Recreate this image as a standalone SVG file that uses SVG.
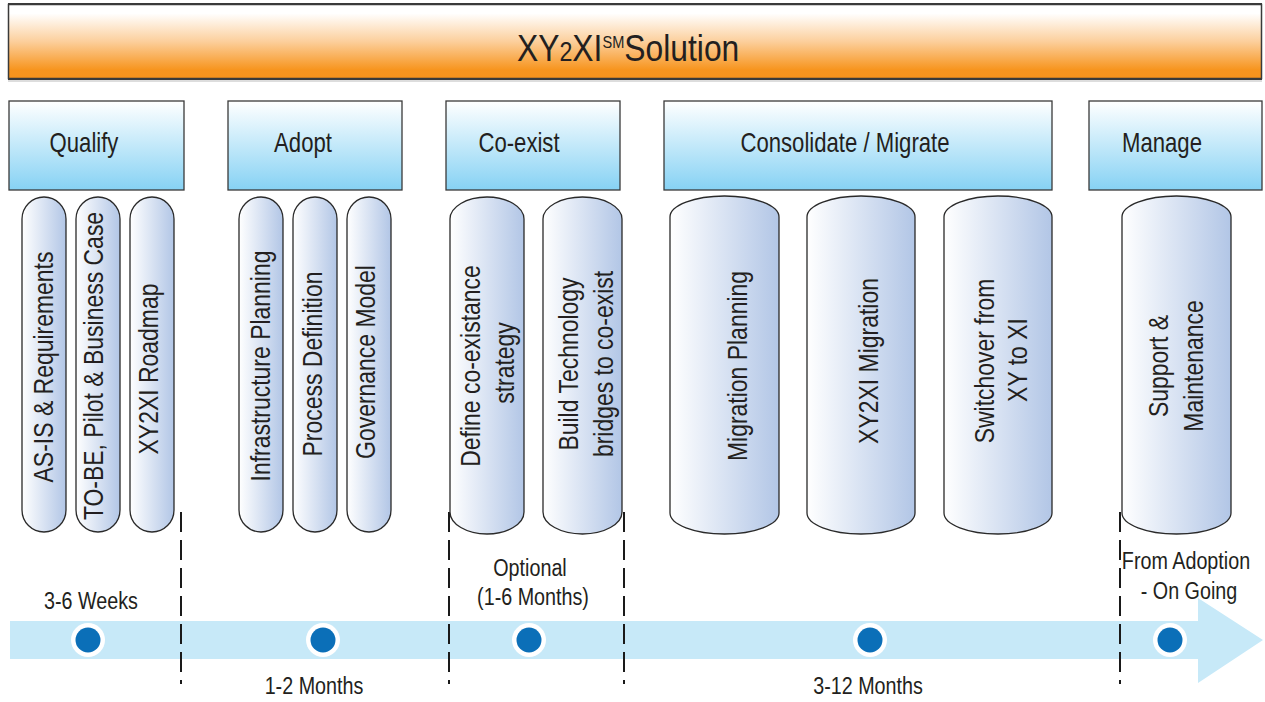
<svg xmlns="http://www.w3.org/2000/svg" width="1265" height="702" viewBox="0 0 1265 702">
<defs>
<linearGradient id="gTitle" x1="0" y1="0" x2="0" y2="1">
<stop offset="0" stop-color="#FFFFFF"/>
<stop offset="0.12" stop-color="#FFFFFF"/>
<stop offset="0.5" stop-color="#FCCF9C"/>
<stop offset="0.88" stop-color="#F7951F"/>
<stop offset="1" stop-color="#F7931C"/>
</linearGradient>
<linearGradient id="gHead" x1="0" y1="0" x2="0" y2="1">
<stop offset="0" stop-color="#FFFFFF"/>
<stop offset="1" stop-color="#86D2F4"/>
</linearGradient>
<linearGradient id="gPill" x1="0" y1="0" x2="1" y2="0">
<stop offset="0" stop-color="#FFFFFF"/>
<stop offset="1" stop-color="#B2C6E6"/>
</linearGradient>
<style>
text{font-family:'Liberation Sans',Arial,sans-serif;fill:#231F20;}
.head{fill:url(#gHead);stroke:#3A3A3A;stroke-width:1.3;}
.pill{fill:url(#gPill);stroke:#2A2A2A;stroke-width:1.3;}
.ht{font-size:27px;text-anchor:middle;}
.pt{font-size:28px;text-anchor:middle;}
.lt{font-size:23.5px;text-anchor:middle;}
.dash{stroke:#1A1A1A;stroke-width:2;stroke-dasharray:20 8;fill:none;}
.ring{fill:#FFFFFF;}
.dot{fill:#0B6FB8;}
</style>
</defs>
<rect width="1265" height="702" fill="#FFFFFF"/>

<g id="title">
<rect x="8.5" y="4.5" width="1253" height="74" fill="url(#gTitle)" stroke="#3A3A3A" stroke-width="1.5"/>
<line x1="8" y1="4" x2="1262" y2="4" stroke="#3A3A3A" stroke-width="2"/>
<line x1="8" y1="79" x2="1262" y2="79" stroke="#3A3A3A" stroke-width="2"/>
<line x1="8" y1="81" x2="1262" y2="81" stroke="#BBBBBB" stroke-width="1"/>
<text transform="translate(517 61) scale(0.86 1)" style="font-size:37px;">XY<tspan style="font-size:27px;">2</tspan>XI<tspan dy="-13" style="font-size:17px;">SM</tspan><tspan dy="13">Solution</tspan></text>
</g>

<g id="timeline">
<path d="M10 621 H1198 V598 L1263 640 L1198 683 V659 H10 Z" fill="#C7E9F8"/>
</g>

<g id="connectors">
<line class="dash" x1="181" y1="512" x2="181" y2="684"/>
<line class="dash" x1="449" y1="512" x2="449" y2="684"/>
<line class="dash" x1="624" y1="512" x2="624" y2="684"/>
<line class="dash" x1="1120" y1="512" x2="1120" y2="684"/>
</g>

<g id="qualify">
<rect class="head" x="9" y="101" width="175" height="89"/>
<text class="ht" transform="translate(84 152) scale(0.82 1)">Qualify</text>
<rect class="pill" x="22" y="197" width="44" height="335" rx="22" ry="22"/>
<rect class="pill" x="76" y="197" width="44" height="335" rx="22" ry="22"/>
<rect class="pill" x="130" y="197" width="44" height="335" rx="22" ry="22"/>
<text class="pt" transform="translate(53 367) rotate(-90) scale(0.82 1)">AS-IS &amp; Requirements</text>
<text class="pt" transform="translate(103 366) rotate(-90) scale(0.82 1)">TO-BE, Pilot &amp; Business Case</text>
<text class="pt" transform="translate(158 369) rotate(-90) scale(0.82 1)">XY2XI Roadmap</text>
</g>

<g id="adopt">
<rect class="head" x="228" y="101" width="174" height="89"/>
<text class="ht" transform="translate(303 152) scale(0.82 1)">Adopt</text>
<rect class="pill" x="239" y="197" width="44" height="335" rx="22" ry="22"/>
<rect class="pill" x="293" y="197" width="44" height="335" rx="22" ry="22"/>
<rect class="pill" x="347" y="197" width="44" height="335" rx="22" ry="22"/>
<text class="pt" transform="translate(270 366) rotate(-90) scale(0.82 1)">Infrastructure Planning</text>
<text class="pt" transform="translate(322 364) rotate(-90) scale(0.82 1)">Process Definition</text>
<text class="pt" transform="translate(375 362) rotate(-90) scale(0.82 1)">Governance Model</text>
</g>

<g id="coexist">
<rect class="head" x="446" y="101" width="174" height="89"/>
<text class="ht" transform="translate(519 152) scale(0.82 1)">Co-exist</text>
<rect class="pill" x="450" y="197" width="74" height="337" rx="37" ry="22"/>
<rect class="pill" x="543" y="197" width="79" height="337" rx="39.5" ry="22"/>
<text class="pt" transform="translate(480 366) rotate(-90) scale(0.82 1)">Define co-existance</text>
<text class="pt" transform="translate(514 363) rotate(-90) scale(0.82 1)">strategy</text>
<text class="pt" transform="translate(578 364) rotate(-90) scale(0.82 1)">Build Technology</text>
<text class="pt" transform="translate(613 364) rotate(-90) scale(0.82 1)">bridges to co-exist</text>
</g>

<g id="consolidate">
<rect class="head" x="664" y="101" width="388" height="89"/>
<text class="ht" transform="translate(845 152) scale(0.82 1)">Consolidate / Migrate</text>
<rect class="pill" x="670" y="196" width="109" height="338" rx="54.5" ry="21"/>
<rect class="pill" x="807" y="196" width="108" height="338" rx="54" ry="21"/>
<rect class="pill" x="944" y="196" width="108" height="338" rx="54" ry="21"/>
<text class="pt" transform="translate(747 366) rotate(-90) scale(0.82 1)">Migration Planning</text>
<text class="pt" transform="translate(878 361) rotate(-90) scale(0.82 1)">XY2XI Migration</text>
<text class="pt" transform="translate(994 361) rotate(-90) scale(0.82 1)">Switchover from</text>
<text class="pt" transform="translate(1027 360) rotate(-90) scale(0.82 1)">XY to XI</text>
</g>

<g id="manage">
<rect class="head" x="1089" y="101" width="173" height="89"/>
<text class="ht" transform="translate(1162 152) scale(0.82 1)">Manage</text>
<rect class="pill" x="1122" y="196" width="109" height="338" rx="54.5" ry="21"/>
<text class="pt" transform="translate(1168 366) rotate(-90) scale(0.82 1)">Support &amp;</text>
<text class="pt" transform="translate(1203 366) rotate(-90) scale(0.82 1)">Maintenance</text>
</g>

<g id="milestones">
<circle class="ring" cx="88" cy="640" r="17"/><circle class="dot" cx="88" cy="640" r="12.5"/>
<circle class="ring" cx="323" cy="640" r="17"/><circle class="dot" cx="323" cy="640" r="12.5"/>
<circle class="ring" cx="529" cy="640" r="17"/><circle class="dot" cx="529" cy="640" r="12.5"/>
<circle class="ring" cx="870" cy="640" r="17"/><circle class="dot" cx="870" cy="640" r="12.5"/>
<circle class="ring" cx="1170" cy="640" r="17"/><circle class="dot" cx="1170" cy="640" r="12.5"/>
</g>

<g id="labels">
<text class="lt" transform="translate(91 609) scale(0.84 1)">3-6 Weeks</text>
<text class="lt" transform="translate(314 694) scale(0.84 1)">1-2 Months</text>
<text class="lt" transform="translate(530 576) scale(0.84 1)">Optional</text>
<text class="lt" transform="translate(533 605) scale(0.84 1)">(1-6 Months)</text>
<text class="lt" transform="translate(868 694) scale(0.84 1)">3-12 Months</text>
<text class="lt" transform="translate(1186 569) scale(0.84 1)">From Adoption</text>
<text class="lt" transform="translate(1189 599) scale(0.84 1)">- On Going</text>
</g>
</svg>
